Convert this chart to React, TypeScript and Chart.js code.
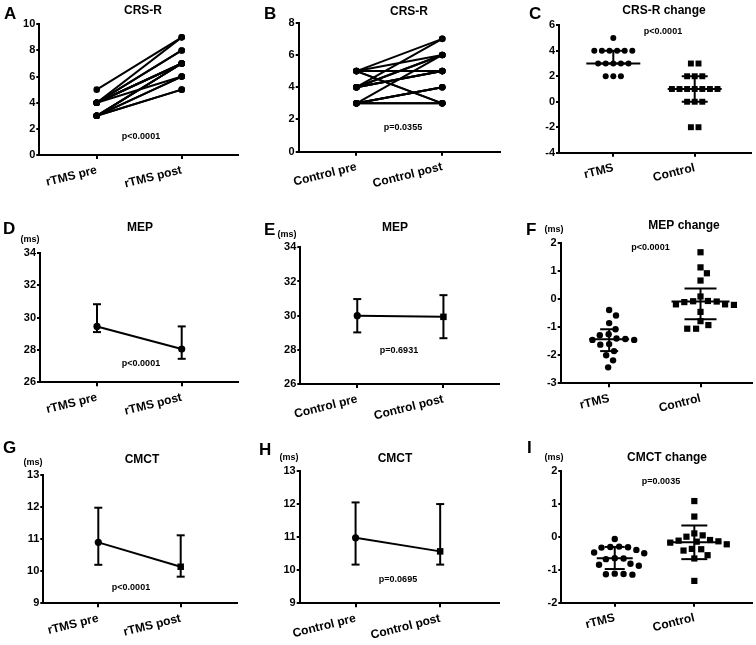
import React, { useEffect, useRef } from 'react';
import { Chart, registerables } from 'chart.js';
Chart.register(...registerables);

const FONT = 'Arial, "Liberation Sans", Helvetica, sans-serif';
const W = 252;
const H = 215;

// ---------- categories ----------
const rtmsPairLabels = ['rTMS pre', 'rTMS post'];
const controlPairLabels = ['Control pre', 'Control post'];
const groupLabels = ['rTMS', 'Control'];

// ---------- y tick labels ----------
const ticksCrsA = [0, 2, 4, 6, 8, 10];
const ticksCrsB = [0, 2, 4, 6, 8];
const ticksCrsChange = [-4, -2, 0, 2, 4, 6];
const ticksMep = [26, 28, 30, 32, 34];
const ticksMepChange = [-3, -2, -1, 0, 1, 2];
const ticksCmct = [9, 10, 11, 12, 13];
const ticksCmctChange = [-2, -1, 0, 1, 2];

// ---------- A: CRS-R rTMS (paired) ----------
const crsRtmsPre = [5, 4, 4, 4, 3, 3, 4, 4, 3, 3, 4, 3, 4, 3, 3];
const crsRtmsPost = [9, 9, 8, 8, 7, 7, 7, 7, 6, 6, 6, 7, 7, 5, 5];

// ---------- B: CRS-R control (paired) ----------
const crsControlPre = [5, 4, 3, 4, 4, 4, 4, 4, 3, 3, 3, 5, 5, 3, 3, 5, 5];
const crsControlPost = [7, 7, 6, 6, 6, 5, 5, 5, 4, 4, 4, 6, 5, 3, 3, 3, 3];

// ---------- C: CRS-R change ----------
const crsChangeRtms = [5, 4, 4, 4, 4, 4, 4, 3, 3, 3, 3, 3, 2, 2, 2];
const crsChangeControl = [3, 3, 2, 2, 2, 1, 1, 1, 1, 1, 1, 1, 0, 0, 0, -2, -2];
const crsChangeMedian = [3, 1];
const crsChangeQ1 = [3, 0];
const crsChangeQ3 = [4, 2];

// ---------- D: MEP rTMS ----------
const mepRtmsMedian = [29.45, 28.05];
const mepRtmsLow = [29.1, 27.45];
const mepRtmsHigh = [30.82, 29.45];

// ---------- E: MEP control ----------
const mepControlMedian = [30.0, 29.93];
const mepControlLow = [29.02, 28.68];
const mepControlHigh = [30.97, 31.2];

// ---------- F: MEP change ----------
const mepChangeRtms = [-0.38, -0.58, -0.85, -1.07, -1.25, -1.28, -1.4, -1.45, -1.45, -1.42, -1.6, -1.62, -1.85, -2.0, -2.18, -2.43];
const mepChangeControl = [1.68, 1.14, 0.93, 0.67, 0.1, -0.06, -0.07, -0.08, -0.1, -0.18, -0.2, -0.18, -0.45, -0.78, -0.92, -1.05, -1.05];
const mepChangeMedian = [-1.43, -0.08];
const mepChangeQ1 = [-1.85, -0.71];
const mepChangeQ3 = [-1.07, 0.39];

// ---------- G: CMCT rTMS ----------
const cmctRtmsMedian = [10.9, 10.14];
const cmctRtmsLow = [10.2, 9.83];
const cmctRtmsHigh = [11.98, 11.12];

// ---------- H: CMCT control ----------
const cmctControlMedian = [10.98, 10.57];
const cmctControlLow = [10.17, 10.17];
const cmctControlHigh = [12.05, 12.0];

// ---------- I: CMCT change ----------
const cmctChangeRtms = [-0.07, -0.3, -0.31, -0.32, -0.33, -0.4, -0.48, -0.5, -0.65, -0.66, -0.68, -0.82, -0.85, -0.88, -1.12, -1.13, -1.14, -1.15];
const cmctChangeControl = [1.08, 0.61, 0.1, 0.04, 0.0, -0.1, -0.12, -0.14, -0.15, -0.18, -0.23, -0.37, -0.38, -0.42, -0.56, -0.66, -1.34];
const cmctChangeMedian = [-0.65, -0.17];
const cmctChangeQ1 = [-0.98, -0.68];
const cmctChangeQ3 = [-0.31, 0.34];

// ---------- helpers ----------
type Box = { l: number; r: number; t: number; b: number; c1: number; c2: number };
type Pos = [number, number];

function pairDatasets(pre: number[], post: number[]) {
  return pre.map((v, i) => ({
    data: [{ x: 1, y: v }, { x: 2, y: post[i] }],
    showLine: true,
    borderColor: '#000',
    borderWidth: 2,
    pointRadius: 3.3,
    pointBackgroundColor: '#000',
    pointBorderColor: '#000',
    pointBorderWidth: 0,
    clip: false,
  }));
}

function medianDatasets(med: number[], styles: string[]) {
  return [{
    data: med.map((v, i) => ({ x: i + 1, y: v })),
    showLine: true,
    borderColor: '#000',
    borderWidth: 2,
    pointStyle: styles,
    pointRadius: styles.map((s) => (s === 'rect' ? 4.6 : 3.6)),
    pointBackgroundColor: '#000',
    pointBorderColor: '#000',
    pointBorderWidth: 0,
    clip: false,
  }];
}

function rowOffsets(values: number[], spacingPx: number, pxX: number) {
  const counts = new Map<number, number>();
  const seen = new Map<number, number>();
  values.forEach((v) => counts.set(v, (counts.get(v) || 0) + 1));
  return values.map((v) => {
    const n = counts.get(v) || 1;
    const j = seen.get(v) || 0;
    seen.set(v, j + 1);
    return ((j - (n - 1) / 2) * spacingPx) / pxX;
  });
}

function swarmOffsets(values: number[], pxY: number, pxX: number, diam: number) {
  const order = values.map((_, i) => i).sort((a, b) => values[b] - values[a]);
  const placed: { x: number; y: number }[] = [];
  const out = values.map(() => 0);
  for (const i of order) {
    const y = values[i] * pxY;
    for (let n = 0; n < 400; n++) {
      const off = n === 0 ? 0 : (n % 2 ? 1 : -1) * Math.ceil(n / 2) * 0.5;
      if (placed.every((p) => Math.hypot(p.x - off, p.y - y) >= diam)) {
        placed.push({ x: off, y });
        out[i] = off / pxX;
        break;
      }
    }
  }
  return out;
}

function groupDataset(values: number[], center: number, offsets: number[], style: string, radius: number) {
  return {
    data: values.map((v, i) => ({ x: center + offsets[i], y: v })),
    showLine: false,
    pointStyle: style,
    pointRadius: radius,
    pointBackgroundColor: '#000',
    pointBorderColor: '#000',
    pointBorderWidth: 0,
    clip: false,
  };
}

interface PanelSpec {
  id: string;
  col: number;
  row: number;
  letter: string;
  letterPos: Pos;
  title: string;
  titlePos: Pos;
  unit?: string;
  unitPos?: Pos;
  pText: string;
  pPos: Pos;
  cats: string[];
  yTicks: number[];
  box: Box;
  datasets: any[];
  errorBars?: { median: number[]; low: number[]; high: number[]; cap: number };
  stats?: { median: number[]; q1: number[]; q3: number[]; medHalf: number[]; capHalf: number[] };
}

const pxYof = (box: Box, ticks: number[]) => (box.b - box.t) / (ticks[ticks.length - 1] - ticks[0]);

// ---------- layout boxes ----------
const boxA: Box = { l: 39.3, r: 238, t: 24.3, b: 155, c1: 96.7, c2: 181.7 };
const boxB: Box = { l: 46.7, r: 250, t: 22.7, b: 151.7, c1: 105, c2: 191.7 };
const boxC: Box = { l: 55, r: 246.7, t: 25.3, b: 152.7, c1: 109.3, c2: 190.7 };
const boxD: Box = { l: 40, r: 237.7, t: 37.7, b: 167.3, c1: 97, c2: 181.7 };
const boxE: Box = { l: 48.3, r: 250, t: 32.3, b: 169, c1: 106, c2: 193.3 };
const boxF: Box = { l: 56.7, r: 251, t: 28.3, b: 168.3, c1: 106, c2: 199 };
const boxG: Box = { l: 43.3, r: 236.7, t: 45, b: 173.3, c1: 98.3, c2: 180.7 };
const boxH: Box = { l: 47.7, r: 250, t: 41, b: 173.3, c1: 104.3, c2: 190 };
const boxI: Box = { l: 57.3, r: 251, t: 40.7, b: 172.7, c1: 111.7, c2: 192.7 };

const SWARM_GAP = 8.6;
const ROW_GAP = 7.6;

const specs: PanelSpec[] = [
  {
    id: 'A', col: 0, row: 0, letter: 'A', letterPos: [4, 19], title: 'CRS-R', titlePos: [143, 11],
    pText: 'p<0.0001', pPos: [141, 137], cats: rtmsPairLabels, yTicks: ticksCrsA, box: boxA,
    datasets: pairDatasets(crsRtmsPre, crsRtmsPost),
  },
  {
    id: 'B', col: 1, row: 0, letter: 'B', letterPos: [12, 19], title: 'CRS-R', titlePos: [157, 12],
    pText: 'p=0.0355', pPos: [151, 128], cats: controlPairLabels, yTicks: ticksCrsB, box: boxB,
    datasets: pairDatasets(crsControlPre, crsControlPost),
  },
  {
    id: 'C', col: 2, row: 0, letter: 'C', letterPos: [25, 19], title: 'CRS-R change', titlePos: [160, 11],
    pText: 'p<0.0001', pPos: [159, 32], cats: groupLabels, yTicks: ticksCrsChange, box: boxC,
    datasets: [
      groupDataset(crsChangeRtms, 1, rowOffsets(crsChangeRtms, ROW_GAP, boxC.c2 - boxC.c1), 'circle', 3.0),
      groupDataset(crsChangeControl, 2, rowOffsets(crsChangeControl, ROW_GAP, boxC.c2 - boxC.c1), 'rect', 4.2),
    ],
    stats: { median: crsChangeMedian, q1: crsChangeQ1, q3: crsChangeQ3, medHalf: [27, 27], capHalf: [13, 13] },
  },
  {
    id: 'D', col: 0, row: 1, letter: 'D', letterPos: [3, 19], title: 'MEP', titlePos: [140, 13],
    unit: '(ms)', unitPos: [30, 25], pText: 'p<0.0001', pPos: [141, 149], cats: rtmsPairLabels,
    yTicks: ticksMep, box: boxD, datasets: medianDatasets(mepRtmsMedian, ['circle', 'circle']),
    errorBars: { median: mepRtmsMedian, low: mepRtmsLow, high: mepRtmsHigh, cap: 4 },
  },
  {
    id: 'E', col: 1, row: 1, letter: 'E', letterPos: [12, 20], title: 'MEP', titlePos: [143, 13],
    unit: '(ms)', unitPos: [35, 20], pText: 'p=0.6931', pPos: [147, 136], cats: controlPairLabels,
    yTicks: ticksMep, box: boxE, datasets: medianDatasets(mepControlMedian, ['circle', 'rect']),
    errorBars: { median: mepControlMedian, low: mepControlLow, high: mepControlHigh, cap: 4 },
  },
  {
    id: 'F', col: 2, row: 1, letter: 'F', letterPos: [22, 20], title: 'MEP change', titlePos: [180, 11],
    unit: '(ms)', unitPos: [50, 15], pText: 'p<0.0001', pPos: [146.5, 33], cats: groupLabels,
    yTicks: ticksMepChange, box: boxF,
    datasets: [
      groupDataset(mepChangeRtms, 1, swarmOffsets(mepChangeRtms, pxYof(boxF, ticksMepChange), boxF.c2 - boxF.c1, SWARM_GAP), 'circle', 3.2),
      groupDataset(mepChangeControl, 2, swarmOffsets(mepChangeControl, pxYof(boxF, ticksMepChange), boxF.c2 - boxF.c1, SWARM_GAP), 'rect', 4.4),
    ],
    stats: { median: mepChangeMedian, q1: mepChangeQ1, q3: mepChangeQ3, medHalf: [20, 29], capHalf: [9, 16] },
  },
  {
    id: 'G', col: 0, row: 2, letter: 'G', letterPos: [3, 23], title: 'CMCT', titlePos: [142, 30],
    unit: '(ms)', unitPos: [33, 33], pText: 'p<0.0001', pPos: [131, 158], cats: rtmsPairLabels,
    yTicks: ticksCmct, box: boxG, datasets: medianDatasets(cmctRtmsMedian, ['circle', 'rect']),
    errorBars: { median: cmctRtmsMedian, low: cmctRtmsLow, high: cmctRtmsHigh, cap: 4 },
  },
  {
    id: 'H', col: 1, row: 2, letter: 'H', letterPos: [7, 25], title: 'CMCT', titlePos: [143, 29],
    unit: '(ms)', unitPos: [37, 28], pText: 'p=0.0695', pPos: [146, 150], cats: controlPairLabels,
    yTicks: ticksCmct, box: boxH, datasets: medianDatasets(cmctControlMedian, ['circle', 'rect']),
    errorBars: { median: cmctControlMedian, low: cmctControlLow, high: cmctControlHigh, cap: 4 },
  },
  {
    id: 'I', col: 2, row: 2, letter: 'I', letterPos: [23, 23], title: 'CMCT change', titlePos: [163, 28],
    unit: '(ms)', unitPos: [50, 28], pText: 'p=0.0035', pPos: [157, 52], cats: groupLabels,
    yTicks: ticksCmctChange, box: boxI,
    datasets: [
      groupDataset(cmctChangeRtms, 1, swarmOffsets(cmctChangeRtms, pxYof(boxI, ticksCmctChange), boxI.c2 - boxI.c1, SWARM_GAP), 'circle', 3.2),
      groupDataset(cmctChangeControl, 2, swarmOffsets(cmctChangeControl, pxYof(boxI, ticksCmctChange), boxI.c2 - boxI.c1, SWARM_GAP), 'rect', 4.4),
    ],
    stats: { median: cmctChangeMedian, q1: cmctChangeQ1, q3: cmctChangeQ3, medHalf: [18, 27], capHalf: [10, 13] },
  },
];

function makeConfig(spec: PanelSpec): any {
  const { box, yTicks } = spec;
  const unit = box.c2 - box.c1;
  const xMin = 1 - (box.c1 - box.l) / unit;
  const xMax = 2 + (box.r - box.c2) / unit;

  const annot = {
    id: 'annot' + spec.id,
    afterDatasetsDraw(chart: any) {
      const ctx = chart.ctx;
      const xs = chart.scales.x;
      const ys = chart.scales.y;
      ctx.save();
      ctx.strokeStyle = '#000';
      ctx.lineWidth = 2;
      ctx.lineCap = 'butt';
      const hline = (x0: number, x1: number, y: number) => {
        ctx.beginPath(); ctx.moveTo(x0, y); ctx.lineTo(x1, y); ctx.stroke();
      };
      const vline = (x: number, y0: number, y1: number) => {
        ctx.beginPath(); ctx.moveTo(x, y0); ctx.lineTo(x, y1); ctx.stroke();
      };
      if (spec.errorBars) {
        const eb = spec.errorBars;
        eb.median.forEach((_, i) => {
          const px = xs.getPixelForValue(i + 1);
          const yl = ys.getPixelForValue(eb.low[i]);
          const yh = ys.getPixelForValue(eb.high[i]);
          vline(px, yl, yh);
          hline(px - eb.cap, px + eb.cap, yl);
          hline(px - eb.cap, px + eb.cap, yh);
        });
      }
      if (spec.stats) {
        const st = spec.stats;
        st.median.forEach((m, i) => {
          const px = xs.getPixelForValue(i + 1);
          const ym = ys.getPixelForValue(m);
          const y1 = ys.getPixelForValue(st.q1[i]);
          const y3 = ys.getPixelForValue(st.q3[i]);
          hline(px - st.medHalf[i], px + st.medHalf[i], ym);
          vline(px, y1, y3);
          hline(px - st.capHalf[i], px + st.capHalf[i], y1);
          hline(px - st.capHalf[i], px + st.capHalf[i], y3);
        });
      }
      ctx.restore();
    },
    afterDraw(chart: any) {
      const ctx = chart.ctx;
      ctx.save();
      ctx.fillStyle = '#000';
      ctx.font = `bold 17px ${FONT}`;
      ctx.textAlign = 'left';
      ctx.textBaseline = 'alphabetic';
      ctx.fillText(spec.letter, spec.letterPos[0], spec.letterPos[1]);
      ctx.textAlign = 'center';
      ctx.textBaseline = 'middle';
      ctx.font = `bold 12px ${FONT}`;
      ctx.fillText(spec.title, spec.titlePos[0], spec.titlePos[1]);
      ctx.font = `bold 9px ${FONT}`;
      ctx.fillText(spec.pText, spec.pPos[0], spec.pPos[1]);
      if (spec.unit && spec.unitPos) {
        ctx.fillText(spec.unit, spec.unitPos[0], spec.unitPos[1]);
      }
      ctx.restore();
    },
  };

  return {
    type: 'scatter',
    data: { datasets: spec.datasets },
    options: {
      animation: false,
      responsive: false,
      events: [],
      layout: { padding: { left: 0, top: box.t, right: W - box.r, bottom: 0 } },
      plugins: { legend: { display: false }, tooltip: { enabled: false }, title: { display: false } },
      scales: {
        x: {
          type: 'linear',
          min: xMin,
          max: xMax,
          afterBuildTicks: (s: any) => { s.ticks = [{ value: 1 }, { value: 2 }]; },
          afterFit: (s: any) => { s.height = H - box.b; },
          ticks: {
            autoSkip: false,
            minRotation: 14,
            maxRotation: 14,
            padding: 4,
            color: '#000',
            font: { family: FONT, size: 12, weight: 'bold' },
            callback: (_v: any, i: number) => spec.cats[i],
          },
          grid: { drawOnChartArea: false, drawTicks: true, tickLength: 4, color: '#000', lineWidth: 2 },
          border: { display: true, color: '#000', width: 2 },
        },
        y: {
          type: 'linear',
          min: yTicks[0],
          max: yTicks[yTicks.length - 1],
          afterBuildTicks: (s: any) => { s.ticks = yTicks.map((v) => ({ value: v })); },
          afterFit: (s: any) => { s.width = box.l; },
          ticks: {
            padding: 1,
            color: '#000',
            font: { family: FONT, size: 11, weight: 'bold' },
          },
          grid: { drawOnChartArea: false, drawTicks: true, tickLength: 3, color: '#000', lineWidth: 2 },
          border: { display: true, color: '#000', width: 2 },
        },
      },
    },
    plugins: [annot],
  };
}

function Panel({ spec }: { spec: PanelSpec }) {
  const ref = useRef<HTMLCanvasElement | null>(null);
  useEffect(() => {
    if (!ref.current) return;
    const chart = new Chart(ref.current, makeConfig(spec));
    return () => chart.destroy();
  }, [spec]);
  return (
    <canvas
      ref={ref}
      width={W}
      height={H}
      style={{ position: 'absolute', left: spec.col * W, top: spec.row * H, width: W, height: H }}
    />
  );
}

export default function App() {
  return (
    <div style={{ position: 'absolute', left: 0, top: 0, width: 756, height: 645, background: '#fff', overflow: 'hidden' }}>
      {specs.map((s) => (
        <Panel key={s.id} spec={s} />
      ))}
    </div>
  );
}
